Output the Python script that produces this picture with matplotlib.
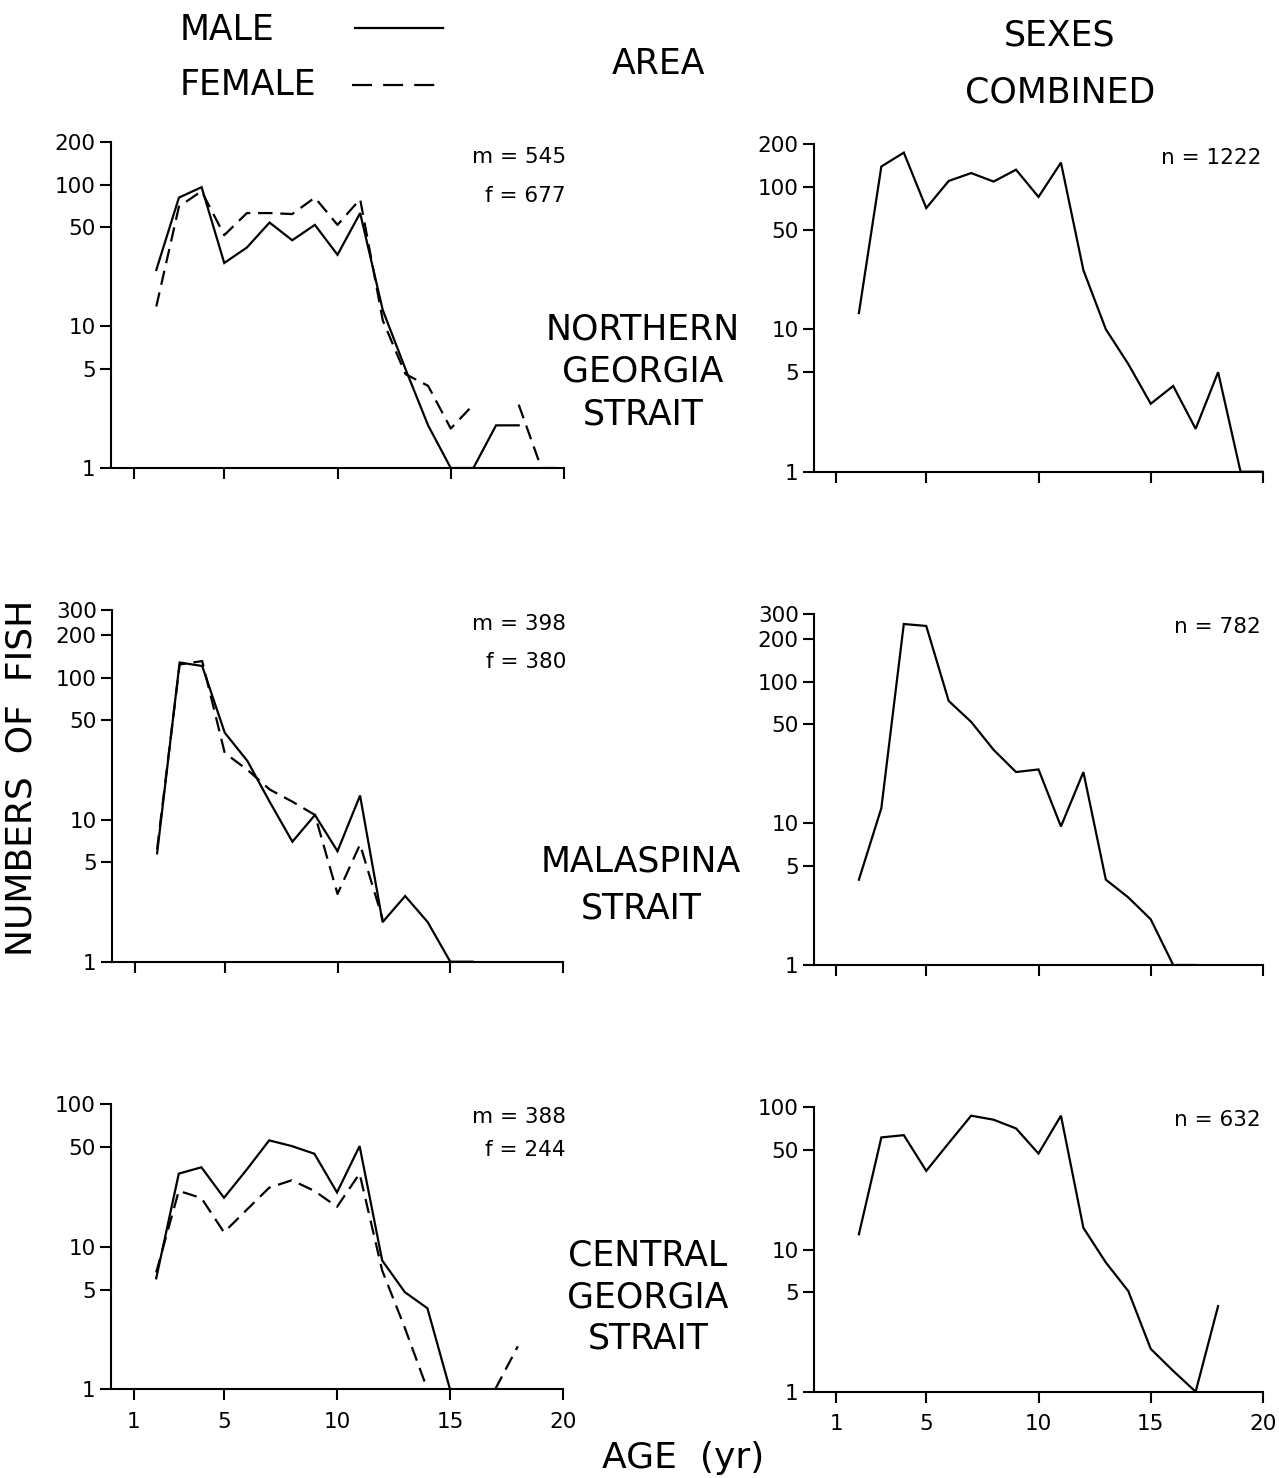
import numpy as np
import matplotlib
matplotlib.use("Agg")
import matplotlib.pyplot as plt

nan = np.nan

# Age classes (years)
ages = np.arange(2, 21)

# Northern Georgia Strait
north_male = [25, 81, 96, 28, 36, 54, 40.5, 52, 32, 63, 13, 5, 2, 1, 1, 2, 2, nan, nan]
north_female = [13.8, 70, 90, 44, 63, 63, 62, 81, 52, 79, 11, 4.6, 3.8, 1.9, 2.8, nan, 2.8, 1, 1]
north_all = [13, 139, 174, 71, 110, 125, 109, 132, 85, 148, 26, 10, 5.7, 3, 4, 2, 5, 1, 1]

# Malaspina Strait
mala_male = [5.8, 128, 121, 41, 26, 13.3, 7, 10.8, 6, 14.8, 1.9, 2.9, 1.9, 1, 1, nan, nan, nan, nan]
mala_female = [6.2, 124, 131, 29.5, 22.5, 16.3, 13.4, 10.8, 3, 6.7, 2, nan, nan, nan, nan, nan, nan, nan, nan]
mala_all = [4, 12.8, 255, 247, 73, 52, 33, 23, 24, 9.5, 23, 4, 3, 2.1, 1, 1, nan, nan, nan]

# Central Georgia Strait
cent_male = [6, 32.5, 36, 22, 34.6, 55.6, 50.7, 44.8, 24, 50.7, 8, 4.8, 3.7, 1, nan, nan, nan, nan, nan]
cent_female = [6.6, 24.6, 21.9, 12.6, 18.1, 25.9, 29.2, 24.6, 19, 32.5, 6.8, 2.7, 1, 1, nan, 1, 2, nan, nan]
cent_all = [12.8, 61.4, 63.7, 35.7, 56, 87.3, 81.8, 71, 47.3, 87.3, 14.2, 8.1, 5.1, 2, 1.4, 1, 4, nan, nan]

area_names = ["NORTHERN\nGEORGIA\nSTRAIT", "MALASPINA\nSTRAIT", "CENTRAL\nGEORGIA\nSTRAIT"]
male_counts = [545, 398, 388]
female_counts = [677, 380, 244]
total_counts = [1222, 782, 632]

x_ticks = [1, 5, 10, 15, 20]
x_ticklabels = ["1", "5", "10", "15", "20"]
y_ticks_top = [1, 5, 10, 50, 100, 200]
y_ticks_mid = [1, 5, 10, 50, 100, 200, 300]
y_ticks_bot = [1, 5, 10, 50, 100]

plt.rcParams["font.family"] = ["DejaVu Sans"]

W, H = 1279, 1478
fig = plt.figure(figsize=(W / 100, H / 100), dpi=100)


def rect(left, right, top, bottom):
    return [left / W, 1 - bottom / H, (right - left) / W, (bottom - top) / H]


LW = 1.6
DASH = (6.5, 3.5)
TICK_FS = 15.5
COUNT_FS = 15.5
TITLE_FS = 25


def style(ax, yticks, ymax, show_xlabels):
    ax.set_yscale("log")
    ax.set_xlim(0, 20)
    ax.set_ylim(1, ymax)
    for s in ("top", "right"):
        ax.spines[s].set_visible(False)
    for s in ("left", "bottom"):
        ax.spines[s].set_linewidth(1.5)
    ax.yaxis.set_minor_locator(matplotlib.ticker.NullLocator())
    ax.set_yticks(yticks)
    ax.set_yticklabels([str(t) for t in yticks])
    ax.set_xticks(x_ticks)
    if show_xlabels:
        ax.set_xticklabels(x_ticklabels)
    else:
        ax.set_xticklabels([])
    ax.tick_params(axis="both", direction="out", length=8, width=1.5,
                   labelsize=TICK_FS, pad=3)
    ax.tick_params(axis="x", pad=8)
    ax.set_facecolor("none")


rows = [
    dict(m=north_male, f=north_female, a=north_all, yt=y_ticks_top, ymax=200,
         L=(111, 564, 142, 468), R=(814, 1263, 144, 471.7)),
    dict(m=mala_male, f=mala_female, a=mala_all, yt=y_ticks_mid, ymax=300,
         L=(112, 563, 610, 961.7), R=(814, 1263, 614, 965)),
    dict(m=cent_male, f=cent_female, a=cent_all, yt=y_ticks_bot, ymax=100,
         L=(111, 563, 1104, 1389.3), R=(814, 1263, 1107.3, 1391.7)),
]

label_y = [(157, 196), (624, 662), (1117, 1150)]
n_y = [158, 627, 1120]
area_xy = [(643, 372), (641, 885), (648, 1297)]
area_spacing = [1.3, 1.45, 1.28]

for i, r in enumerate(rows):
    bottom_row = i == 2
    axl = fig.add_axes(rect(*r["L"]))
    axl.plot(ages, r["m"], color="black", lw=LW, solid_joinstyle="miter")
    axl.plot(ages, r["f"], color="black", lw=LW, linestyle=(0, DASH))
    style(axl, r["yt"], r["ymax"], bottom_row)

    axr = fig.add_axes(rect(*r["R"]))
    axr.plot(ages, r["a"], color="black", lw=LW, solid_joinstyle="miter")
    style(axr, r["yt"], r["ymax"], bottom_row)

    fig.text(566 / W, 1 - label_y[i][0] / H, f"m = {male_counts[i]}",
             ha="right", va="center", fontsize=COUNT_FS)
    fig.text(566 / W, 1 - label_y[i][1] / H, f"f = {female_counts[i]}",
             ha="right", va="center", fontsize=COUNT_FS)
    fig.text(1261 / W, 1 - n_y[i] / H, f"n = {total_counts[i]}",
             ha="right", va="center", fontsize=COUNT_FS)

    fig.text(area_xy[i][0] / W, 1 - area_xy[i][1] / H, area_names[i],
             ha="center", va="center", fontsize=TITLE_FS,
             linespacing=area_spacing[i])

# Header with legend key and column titles
fig.text(180 / W, 1 - 30 / H, "MALE", ha="left", va="center", fontsize=TITLE_FS)
fig.text(180 / W, 1 - 85 / H, "FEMALE", ha="left", va="center", fontsize=TITLE_FS)
fig.add_artist(plt.Line2D([355 / W, 443 / W], [1 - 28 / H, 1 - 28 / H],
                          color="black", lw=LW, transform=fig.transFigure))
fig.add_artist(plt.Line2D([352 / W, 443 / W], [1 - 85 / H, 1 - 85 / H],
                          color="black", lw=LW, linestyle=(0, (9, 5)),
                          transform=fig.transFigure))
fig.text(658 / W, 1 - 64 / H, "AREA", ha="center", va="center", fontsize=TITLE_FS)
fig.text(1060 / W, 1 - 64 / H, "SEXES\nCOMBINED", ha="center", va="center",
         fontsize=TITLE_FS, linespacing=1.85)

# Shared axis titles
fig.text(22 / W, 1 - 778 / H, "NUMBERS  OF  FISH", rotation=90,
         ha="center", va="center", fontsize=26)
fig.text(683 / W, 1 - 1458 / H, "AGE  (yr)", ha="center", va="center",
         fontsize=26)

fig.savefig("out.png", dpi=100, facecolor="white")
